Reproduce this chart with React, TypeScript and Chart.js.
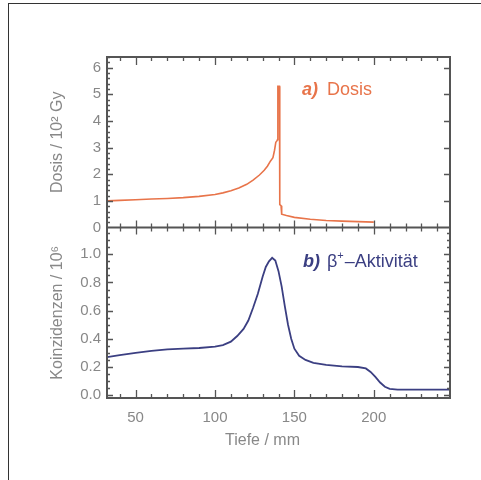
import { useEffect, useRef } from "react";
import { Chart, registerables } from "chart.js";

Chart.register(...registerables);

// ---- data (depth in mm) ----
const doseDepth = [32, 40, 50, 60, 70, 80, 90, 100, 105, 110, 115, 120, 124, 128, 131, 133, 135, 136.5, 137.5, 138.3, 139.0, 139.4, 139.6, 140.6, 140.8, 141.6, 142.0, 145, 150, 160, 170, 180, 190, 200];
const doseValues = [1.0, 1.02, 1.04, 1.07, 1.09, 1.12, 1.17, 1.24, 1.3, 1.38, 1.48, 1.62, 1.78, 1.97, 2.15, 2.3, 2.5, 2.62, 2.9, 3.2, 3.25, 3.3, 5.3, 5.3, 0.86, 0.82, 0.5, 0.45, 0.38, 0.31, 0.26, 0.24, 0.22, 0.2];

const activityDepth = [32, 40, 50, 60, 70, 80, 90, 100, 105, 110, 114, 118, 121, 124, 127, 130, 132, 134, 136, 138, 140, 142, 144, 146, 148, 150, 153, 157, 162, 170, 180, 190, 195, 198, 201, 204, 207, 210, 215, 225, 235, 248];
const activityValues = [0.27, 0.285, 0.3, 0.315, 0.325, 0.33, 0.335, 0.345, 0.355, 0.38, 0.42, 0.47, 0.53, 0.62, 0.72, 0.84, 0.91, 0.95, 0.975, 0.955, 0.88, 0.77, 0.63, 0.5, 0.4, 0.33, 0.28, 0.25, 0.23, 0.215, 0.205, 0.2, 0.19, 0.165, 0.13, 0.09, 0.06, 0.045, 0.04, 0.04, 0.04, 0.04];

const depthTicks = [50, 100, 150, 200];
const doseTicks = [0, 1, 2, 3, 4, 5, 6];
const activityTicks = [0, 0.2, 0.4, 0.6, 0.8, 1.0];

const depthRange = [32, 248];
const doseRange = [0, 6.4];
const activityRange = [-0.02, 1.19];

const ORANGE = "#e8744a";
const NAVY = "#3b3f82";
const AXIS = "#555555";
const TEXT = "#888888";
const FONT = "'Liberation Sans', Arial, sans-serif";

const framePlugin = {
  id: "frame",
  afterDatasetsDraw(chart: any) {
    const { ctx, chartArea: a, scales } = chart;
    const x = scales.x;
    const yT = scales.yT;
    const yB = scales.yB;
    const mid = yT.bottom;
    ctx.save();
    ctx.strokeStyle = AXIS;
    ctx.lineWidth = 2;
    ctx.strokeRect(a.left, a.top, a.right - a.left, a.bottom - a.top);
    ctx.beginPath();
    ctx.moveTo(a.left, mid);
    ctx.lineTo(a.right, mid);
    ctx.stroke();

    ctx.lineWidth = 1.3;
    ctx.beginPath();
    // x ticks every 10 mm
    for (let v = 40; v <= 240; v += 10) {
      const px = Math.round(x.getPixelForValue(v)) + 0.5;
      const major = v % 50 === 0;
      const L = major ? 8 : 4;
      ctx.moveTo(px, a.bottom);
      ctx.lineTo(px, a.bottom - L);
      ctx.moveTo(px, a.top);
      ctx.lineTo(px, a.top + L);
      const M = major ? 7 : 4;
      ctx.moveTo(px, mid - M);
      ctx.lineTo(px, mid + M);
    }
    // top y ticks
    for (let i = 0; i <= 32; i++) {
      const v = i * 0.2;
      if (v <= 0.01) continue;
      const py = Math.round(yT.getPixelForValue(v)) + 0.5;
      const major = i % 5 === 0;
      ctx.moveTo(a.left, py);
      ctx.lineTo(a.left + (major ? 6 : 3), py);
      if (major) {
        ctx.moveTo(a.right, py);
        ctx.lineTo(a.right - 6, py);
      }
    }
    // bottom y ticks
    for (let i = 0; i <= 23; i++) {
      const v = i * 0.05;
      const py = Math.round(yB.getPixelForValue(v)) + 0.5;
      const major = i % 4 === 0;
      const L = major ? 6 : 3;
      ctx.moveTo(a.left, py);
      ctx.lineTo(a.left + L, py);
      ctx.moveTo(a.right, py);
      ctx.lineTo(a.right - L, py);
    }
    ctx.stroke();

    // x title
    ctx.fillStyle = TEXT;
    ctx.font = `16px ${FONT}`;
    ctx.textAlign = "center";
    ctx.textBaseline = "alphabetic";
    ctx.fillText("Tiefe / mm", (a.left + a.right) / 2 - 16, a.bottom + 47);

    // panel labels
    ctx.textAlign = "left";
    const lx = a.left + 195;
    const px2 = a.left + 220;
    ctx.fillStyle = ORANGE;
    ctx.font = `italic bold 18px ${FONT}`;
    ctx.fillText("a)", lx, a.top + 38);
    ctx.font = `18px ${FONT}`;
    ctx.fillText("Dosis", px2, a.top + 38);

    const by = mid + 39;
    ctx.fillStyle = NAVY;
    ctx.font = `italic bold 18px ${FONT}`;
    ctx.fillText("b)", lx + 1, by);
    ctx.font = `18px ${FONT}`;
    let cx = px2;
    ctx.fillText("β", cx, by);
    cx += ctx.measureText("β").width;
    ctx.font = `11px ${FONT}`;
    ctx.fillText("+", cx, by - 8);
    cx += ctx.measureText("+").width + 1;
    ctx.font = `18px ${FONT}`;
    ctx.fillText("–Aktivität", cx, by);
    ctx.restore();
  },
};

export default function App() {
  const ref = useRef<HTMLCanvasElement | null>(null);
  useEffect(() => {
    if (!ref.current) return;
    const tickFont = { family: FONT, size: 15 };
    const chart = new Chart(ref.current, {
      type: "line",
      data: {
        datasets: [
          {
            label: "Dosis",
            data: doseDepth.map((d, i) => ({ x: d, y: doseValues[i] })),
            borderColor: ORANGE,
            borderWidth: 1.6,
            pointRadius: 0,
            tension: 0,
            yAxisID: "yT",
          },
          {
            label: "Aktivität",
            data: activityDepth.map((d, i) => ({ x: d, y: activityValues[i] })),
            borderColor: NAVY,
            borderWidth: 1.8,
            pointRadius: 0,
            tension: 0,
            yAxisID: "yB",
          },
        ],
      },
      options: {
        responsive: false,
        animation: false,
        events: [],
        layout: { padding: { left: 37, top: 57, right: 31, bottom: 34 } },
        plugins: { legend: { display: false }, tooltip: { enabled: false } },
        scales: {
          x: {
            type: "linear",
            min: depthRange[0],
            max: depthRange[1],
            grid: { display: false, drawTicks: false },
            border: { display: false },
            afterBuildTicks: (s: any) => {
              s.ticks = depthTicks.map((v) => ({ value: v }));
            },
            afterFit: (s: any) => {
              s.height = 48;
            },
            ticks: { color: TEXT, font: tickFont, padding: 11, maxRotation: 0, autoSkip: false },
          },
          yB: {
            type: "linear",
            position: "left",
            stack: "panels",
            stackWeight: 1,
            min: activityRange[0],
            max: activityRange[1],
            grid: { display: false, drawTicks: false },
            border: { display: false },
            afterBuildTicks: (s: any) => {
              s.ticks = activityTicks.map((v) => ({ value: v }));
            },
            afterFit: (s: any) => {
              s.width = 70;
            },
            ticks: {
              color: TEXT,
              font: tickFont,
              padding: 6,
              autoSkip: false,
              callback: (v: any) => Number(v).toFixed(1),
            },
            title: {
              display: true,
              text: "Koinzidenzen / 10⁶",
              color: TEXT,
              font: { family: FONT, size: 16 },
              padding: { top: 11, bottom: 0 },
            },
          },
          yT: {
            type: "linear",
            position: "left",
            stack: "panels",
            stackWeight: 1,
            min: doseRange[0],
            max: doseRange[1],
            grid: { display: false, drawTicks: false },
            border: { display: false },
            afterBuildTicks: (s: any) => {
              s.ticks = doseTicks.map((v) => ({ value: v }));
            },
            afterFit: (s: any) => {
              s.width = 70;
            },
            ticks: {
              color: TEXT,
              font: tickFont,
              padding: 6,
              autoSkip: false,
              callback: (v: any) => String(v),
            },
            title: {
              display: true,
              text: "Dosis / 10² Gy",
              color: TEXT,
              font: { family: FONT, size: 16 },
              padding: { top: 11, bottom: 0 },
            },
          },
        },
      },
      plugins: [framePlugin],
    } as any);
    return () => chart.destroy();
  }, []);

  return (
    <div style={{ position: "absolute", left: 0, top: 0, width: 481, height: 480, overflow: "hidden", background: "#fff" }}>
      <div
        style={{
          position: "absolute",
          left: 8,
          top: 3,
          width: 473,
          height: 477,
          borderTop: "1px solid #333",
          borderLeft: "1px solid #333",
          boxSizing: "border-box",
        }}
      />
      <canvas ref={ref} width={481} height={480} style={{ position: "absolute", left: 0, top: 0 }} />
    </div>
  );
}
